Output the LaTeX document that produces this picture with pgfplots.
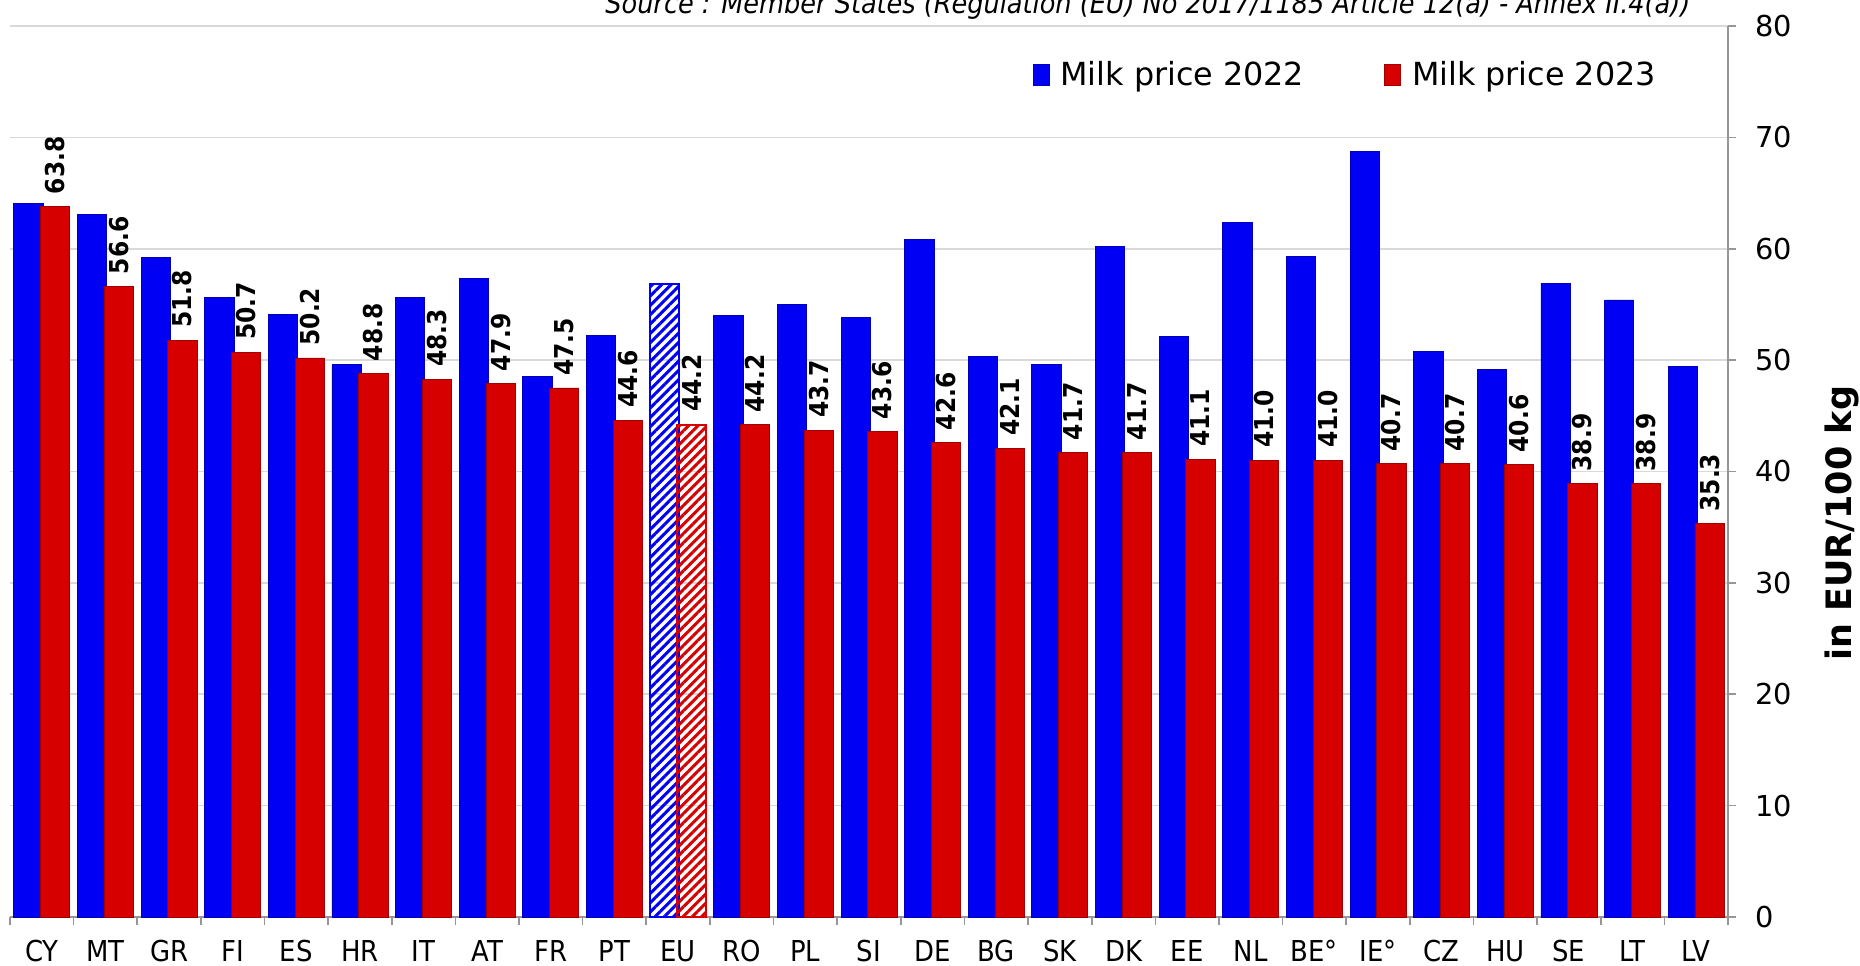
\documentclass[border=0pt]{standalone}
\usepackage{pgfplots}
\pgfplotsset{compat=1.18}
\usepackage{pgfplotstable}
\usetikzlibrary{patterns,patterns.meta}
\usepackage{fontspec}
\setmainfont{DejaVu Sans}
\newfontfamily\condfont{DejaVu Sans Condensed}
\definecolor{barblue}{RGB}{0,0,245}
\definecolor{barred}{RGB}{214,0,0}
\definecolor{gridgray}{RGB}{217,217,217}
\definecolor{axisgray}{RGB}{150,150,150}

\pgfplotstableread{
x y
0 64.1
1 63.1
2 59.2
3 55.6
4 54.1
5 49.6
6 55.6
7 57.3
8 48.5
9 52.2
11 54.0
12 55.0
13 53.8
14 60.8
15 50.3
16 49.6
17 60.2
18 52.1
19 62.4
20 59.3
21 68.7
22 50.8
23 49.2
24 56.9
25 55.4
26 49.4
}\blueA

\pgfplotstableread{
x y
0 63.8
1 56.6
2 51.8
3 50.7
4 50.2
5 48.8
6 48.3
7 47.9
8 47.5
9 44.6
11 44.2
12 43.7
13 43.6
14 42.6
15 42.1
16 41.7
17 41.7
18 41.1
19 41.0
20 41.0
21 40.7
22 40.7
23 40.6
24 38.9
25 38.9
26 35.3
}\redA

\pgfplotstableread{
x y
10 56.8
}\blueEU

\pgfplotstableread{
x y
10 44.2
}\redEU

\begin{document}
\begin{tikzpicture}
\useasboundingbox (0,0) rectangle (930pt,482.5pt);
\begin{axis}[
  at={(5pt,24pt)}, anchor=south west,
  scale only axis, width=859pt, height=445.5pt,
  xmin=-0.5, xmax=26.5, ymin=0, ymax=80,
  axis x line*=bottom, axis y line*=right,
  axis line style={axisgray, line width=0.8pt},
  xtick={0,...,26},
  xticklabels={CY,MT,GR,FI,ES,HR,IT,AT,FR,PT,EU,RO,PL,SI,DE,BG,SK,DK,EE,NL,BE°,IE°,CZ,HU,SE,LT,LV},
  minor xtick={-0.5,0.5,...,26.5},
  major x tick style={draw=none},
  minor x tick style={axisgray, line width=0.8pt},
  ytick={0,10,...,80},
  y tick style={axisgray, line width=0.8pt},
  tick align=outside,
  major tick length=4pt, minor tick length=4pt,
  ymajorgrids, grid style={gridgray, line width=0.8pt},
  /pgf/number format/assume math mode=true,
  xticklabel style={font=\condfont\fontsize{14.4}{17}\selectfont, yshift=-4pt},
  yticklabel style={font=\fontsize{14.4}{17}\selectfont, anchor=west, xshift=6pt},
  every axis y label/.style={at={(rel axis cs:1,0.442)}, anchor=center, xshift=57pt, rotate=90, font=\bfseries\fontsize{17.5}{20}\selectfont},
  ylabel={in EUR/100 kg},
  legend columns=2,
  legend style={at={(0.595,0.945)}, anchor=west, draw=none, fill=none, inner sep=0pt,
    font=\fontsize{15.9}{18}\selectfont,
    /tikz/every even column/.append style={column sep=38pt}},
  legend image code/.code={\draw[#1] (0pt,-5.25pt) rectangle (8pt,5.25pt); \path (11.5pt,0pt);},
]
\addplot[ybar, bar width=0.46, bar shift=-0.21, fill=barblue, draw=barblue!75!black, line width=0.4pt] table {\blueA};
\addlegendentry{Milk price 2022}
\addplot[ybar, bar width=0.46, bar shift=0.21, fill=barred, draw=barred!75!black, line width=0.4pt,
  nodes near coords={\pgfmathprintnumber[fixed,fixed zerofill,precision=1]{\pgfplotspointmeta}},
  nodes near coords style={xshift=6.68pt, rotate=90, anchor=west, inner xsep=6pt, inner ysep=0pt, text=black,
    font=\condfont\bfseries\fontsize{13}{15}\selectfont}] table {\redA};
\addlegendentry{Milk price 2023}
\addplot[ybar, bar width=0.46, bar shift=-0.21, draw=barblue, line width=1pt,
  pattern={Lines[angle=45,distance=3.3pt,line width=1.5pt]}, pattern color=barblue, forget plot] table {\blueEU};
\addplot[ybar, bar width=0.46, bar shift=0.21, draw=barred, line width=1pt,
  pattern={Lines[angle=45,distance=3.3pt,line width=1.5pt]}, pattern color=barred, forget plot,
  nodes near coords={\pgfmathprintnumber[fixed,fixed zerofill,precision=1]{\pgfplotspointmeta}},
  nodes near coords style={xshift=6.68pt, rotate=90, anchor=west, inner xsep=6pt, inner ysep=0pt, text=black,
    font=\condfont\bfseries\fontsize{13}{15}\selectfont}] table {\redEU};
\end{axis}
\node[anchor=base west, inner sep=0pt] at (302.5pt,475.75pt)
  {\resizebox{542.5pt}{!}{\condfont\itshape\fontsize{12}{14}\selectfont Source : Member States (Regulation (EU) No 2017/1185 Article 12(a) - Annex II.4(a))}};
\end{tikzpicture}
\end{document}
